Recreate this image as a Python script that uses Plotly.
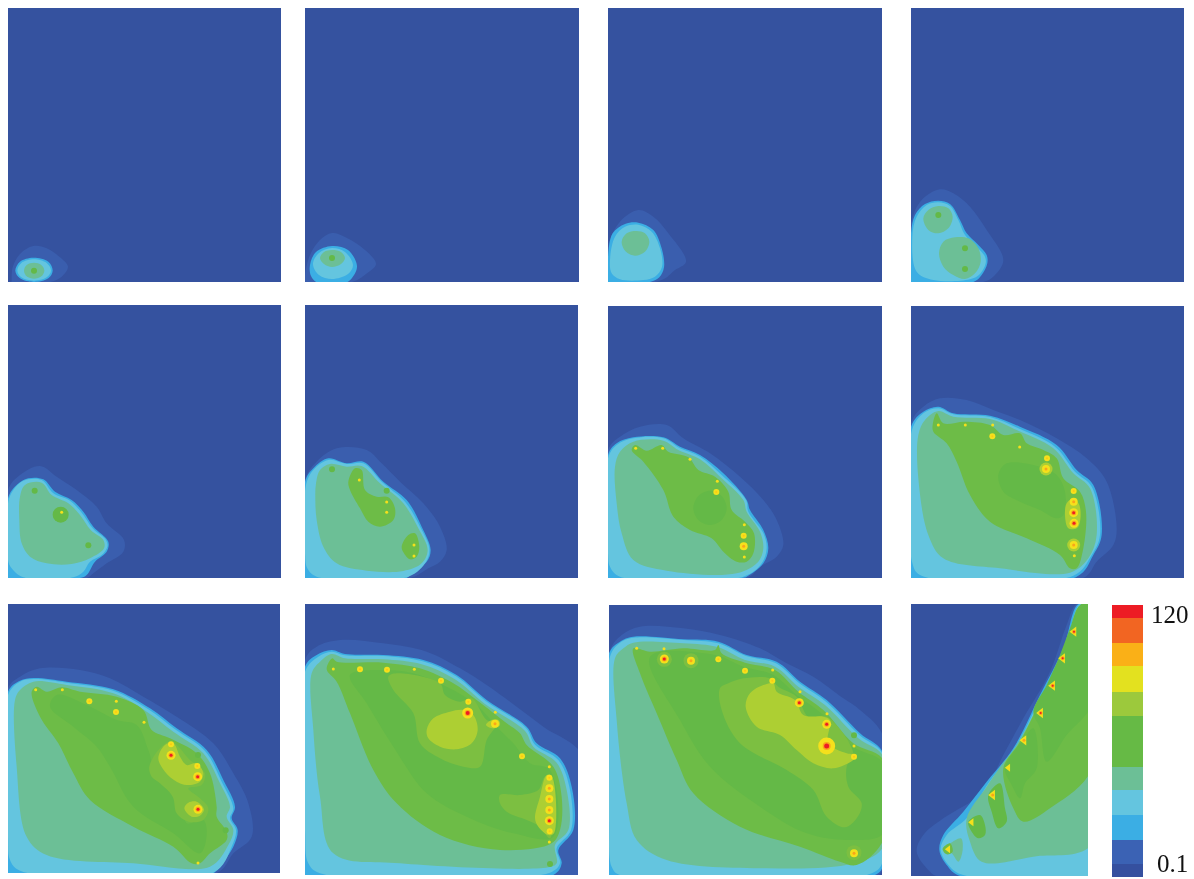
import plotly.graph_objects as go

W, H = 1194, 879

# ---- colour levels (from the colour key) ----
BACK = "#35529F"
HALO = "#3A5EAE"
SKY = "#3BAEE4"
CYAN = "#64C5DF"
TEAL = "#6CBF96"
GRN = "#6DBC47"
DGRN = "#64B947"
OLIVE = "#7CBF41"
YGRN = "#ADCF33"
YEL = "#F5E01C"
ORG = "#F9A61A"
ORED = "#F26522"
RED = "#ED1C24"

# ---- colour key ----
KEY_COLORS = ["#35509F", "#3B62B4", SKY, CYAN, TEAL, "#66BA45", "#9CC93C", "#E3E11F", "#FAB017", ORED, RED]
KEY_BANDS = [40, 72, 75, 73, 70, 153, 72, 77, 70, 73, 40]
KEY_TOP = "120"
KEY_BOTTOM = "0.1"

# ---- panel 1 ----
P1_HALO = [(35,300),(38,262),(60,222),(100,198),(140,205),(180,232),(204,260),(190,285),(160,304),(35,306)]
P1_SKY = [(46,272),(60,245),(100,233),(145,245),(158,272),(145,295),(102,306),(60,295)]
P1_CYAN = [(52,272),(64,249),(102,238),(140,249),(153,272),(140,292),(102,302),(64,292)]
P1_TEAL = [(72,272),(80,255),(102,248),(124,255),(133,272),(124,289),(102,296),(80,289)]
P1_SPOTS = [(102,272,"g")]

# ---- panel 2 ----
P2_HALO = [(305,275),(310,255),(320,240),(332,233),(345,237),(365,250),(376,264),(366,274),(352,282),(305,282)]
P2_SKY = [(310,265),(316,252),(332,246),(348,250),(357,266),(352,278),(345,283),(318,283),(311,276)]
P2_CYAN = [(313,264),(319,253),(332,248),(345,252),(353,265),(348,274),(332,279),(319,275)]
P2_TEAL = [(320,258),(324,252),(332,250),(341,252),(345,258),(341,264),(332,267),(324,264)]
P2_SPOTS = [(332,258,"g")]

# ---- panel 3 ----
P3_HALO = [(24,200),(60,125),(115,90),(160,110),(205,160),(258,245),(225,270),(185,300),(24,306)]
P3_SKY = [(24,230),(38,160),(75,132),(115,128),(160,150),(185,205),(192,262),(178,292),(150,306),(24,306)]
P3_CYAN = [(30,240),(45,170),(75,140),(115,134),(155,155),(180,205),(186,260),(165,290),(130,300),(60,298),(35,280)]
P3_TEAL = [(65,185),(80,160),(110,153),(135,160),(148,185),(135,215),(105,227),(78,215)]

# ---- panel 4 ----
P4_HALO = [(933,130),(965,60),(1020,28),(1060,40),(1110,80),(1160,150),(1210,240),(1185,285),(1150,306),(933,306)]
P4_SKY = [(933,160),(945,105),(975,72),(1015,62),(1050,72),(1080,120),(1100,160),(1135,195),(1160,225),(1162,250),(1145,285),(1120,306),(933,306)]
P4_CYAN = [(937,170),(950,110),(980,75),(1015,67),(1050,78),(1075,120),(1095,165),(1130,200),(1155,230),(1157,250),(1140,282),(1110,298),(1000,300),(950,275)]
P4_TEAL_A = [(970,115),(985,90),(1015,78),(1045,85),(1058,110),(1045,145),(1015,160),(985,150)]
P4_TEAL_B = [(1017,220),(1030,185),(1065,172),(1105,175),(1135,205),(1142,245),(1125,280),(1095,297),(1060,285),(1030,260)]
P4_SPOTS = [(1015,105,"g"),(1095,205,"g"),(1095,267,"g")]

# ---- panel 5 ----
P5_HALO = [(24,150),(60,105),(120,78),(170,110),(230,150),(290,200),(320,250),(372,300),(370,335),(320,370),(280,400),(260,414),(24,414)]
P5_SKY = [(24,175),(50,135),(85,115),(130,118),(165,155),(215,180),(250,215),(280,260),(325,305),(320,335),(285,365),(260,405),(240,414),(24,414)]
P5_CYAN = [(24,190),(40,150),(70,122),(125,120),(160,160),(210,182),(245,218),(278,265),(318,300),(322,320),(305,345),(270,365),(250,395),(220,412),(70,412),(35,385),(24,360)]
P5_TEAL = [(60,170),(75,135),(125,128),(155,165),(205,190),(240,225),(272,270),(310,300),(312,325),(270,355),(215,372),(140,370),(90,350),(65,310),(58,240)]
P5_SPOTS = [(182,224,"G"),(104,152,"g"),(265,316,"g"),(185,217,"t")]

# ---- panel 6 ----
P6_HALO = [(15,120),(50,65),(110,25),(200,30),(245,70),(300,125),(370,190),(420,260),(440,330),(420,365),(385,385),(330,414),(15,414)]
P6_SKY = [(15,125),(40,85),(85,55),(140,70),(190,65),(250,125),(320,180),(365,260),(392,330),(380,365),(330,405),(320,414),(15,414)]
P6_CYAN = [(18,135),(40,90),(85,60),(140,72),(190,70),(245,125),(315,185),(360,260),(388,325),(378,365),(325,410),(50,410),(22,385),(15,340)]
P6_TEAL = [(48,130),(60,90),(90,72),(140,80),(185,78),(240,130),(310,190),(355,265),(383,330),(365,370),(310,393),(200,392),(110,370),(70,320),(50,240),(46,180)]
P6_GREEN_A = [(145,125),(165,85),(185,90),(195,150),(230,170),(265,172),(285,205),(280,240),(240,260),(205,245),(180,205),(150,150)]
P6_GREEN_B = [(305,320),(325,285),(345,280),(358,320),(350,350),(330,358),(312,340)]
P6_SPOTS = [(96,88,"g"),(260,152,"g"),(178,120,"t"),(260,186,"t"),(260,217,"t"),(342,315,"t"),(342,348,"t")]

# ---- panel 7 ----
P7_HALO = [(24,90),(60,50),(120,20),(200,15),(250,55),(330,100),(420,170),(490,240),(530,300),(550,375),(530,410),(480,440),(440,474),(24,474)]
P7_SKY = [(24,105),(50,70),(100,52),(190,52),(240,80),(300,105),(370,160),(440,240),(450,270),(490,330),(505,385),(490,430),(440,470),(420,474),(24,474)]
P7_CYAN = [(24,115),(50,75),(100,55),(190,55),(240,85),(300,110),(365,165),(438,240),(445,275),(490,340),(500,385),(485,430),(430,470),(60,470),(30,440),(24,400)]
P7_TEAL = [(45,140),(60,95),(100,65),(190,62),(235,90),(300,118),(360,170),(430,240),(440,275),(480,335),(490,385),(475,425),(410,460),(200,452),(100,420),(65,340),(50,250)]
P7_GREEN = [(95,90),(105,75),(140,92),(185,75),(205,95),(265,112),(295,150),(345,170),(385,215),(395,270),(435,305),(462,340),(460,400),(440,425),(410,425),(370,395),(335,355),(270,330),(220,290),(190,210),(130,125)]
P7_DARK = [(280,265),(295,228),(330,212),(365,228),(380,265),(365,300),(330,315),(295,300)]
P7_SPOTS = [(107,85,"t"),(188,85,"t"),(270,118,"t"),(352,184,"t"),(349,216,"s"),(433,314,"t"),(431,347,"s"),(431,379,"o"),(433,411,"t")]

# ---- panel 8 ----
P8_HALO = [(33,85),(70,35),(120,10),(200,15),(280,45),(360,75),(470,130),(560,190),(620,260),(650,400),(640,450),(590,500),(550,549),(33,549)]
P8_SKY = [(33,95),(70,50),(115,35),(160,55),(270,62),(360,95),(470,150),(530,225),(580,270),(605,420),(580,480),(530,545),(33,549)]
P8_CYAN = [(36,105),(70,55),(115,40),(160,58),(270,66),(355,100),(465,155),(525,230),(575,275),(600,420),(575,480),(520,542),(60,540),(36,500),(33,400)]
P8_TEAL = [(55,120),(75,75),(115,48),(160,65),(270,72),(350,105),(460,160),(520,235),(570,280),(590,420),(565,490),(510,533),(300,520),(130,490),(85,420),(55,250)]
P8_GREEN = [(98,90),(110,55),(130,85),(195,80),(270,90),(310,120),(360,115),(380,145),(430,165),(470,190),(490,250),(540,290),(558,350),(550,460),(530,520),(510,520),(480,480),(380,430),(270,380),(210,300),(170,200),(140,145),(100,110)]
P8_DARK = [(295,240),(320,205),(420,215),(470,240),(495,290),(490,360),(470,370),(420,345),(360,320),(310,290)]
P8_YGRN = [(495,360),(500,325),(520,310),(538,330),(540,380),(530,400),(505,400)]
P8_SPOTS = [(115,90,"t"),(196,90,"t"),(278,90,"t"),(277,124,"s"),(359,156,"t"),(441,190,"s"),(438,222,"O"),(521,288,"s"),(521,320,"o"),(521,353,"r"),(522,385,"r"),(521,450,"O"),(523,482,"t")]

# ---- panel 9 ----
P9_HALO = [(24,115),(60,80),(120,55),(240,60),(330,85),(430,140),(530,200),(640,280),(700,370),(745,460),(755,560),(700,610),(650,669),(24,669)]
P9_SKY = [(24,125),(60,92),(100,84),(200,95),(340,118),(450,175),(530,235),(620,300),(670,390),(705,470),(695,505),(713,540),(700,590),(650,660),(640,669),(24,669)]
P9_CYAN = [(24,135),(60,95),(100,87),(200,98),(340,122),(445,178),(525,238),(615,303),(665,395),(700,475),(690,505),(708,540),(695,590),(640,668),(60,662),(30,630),(24,560)]
P9_TEAL = [(45,150),(60,120),(100,95),(200,105),(340,130),(440,185),(520,245),(610,310),(660,400),(690,470),(680,500),(700,540),(685,585),(630,650),(400,640),(140,615),(80,560),(50,350)]
P9_GREEN = [(95,125),(110,110),(140,125),(185,112),(240,125),(350,140),(430,180),(455,240),(510,265),(590,310),(630,370),(650,470),(650,500),(680,545),(680,570),(630,610),(600,640),(575,640),(520,590),(400,530),(270,450),(220,370),(175,280),(120,200)]
P9_DARK = [(150,170),(170,135),(260,165),(350,210),(410,225),(445,300),(470,380),(520,430),(550,460),(560,520),(610,510),(620,555),(600,610),(520,550),(400,470),(330,350),(290,290),(220,230)]
P9_OLIVE = [(448,350),(480,295),(515,275),(570,330),(615,370),(605,405),(565,415),(600,445),(625,475),(610,510),(565,515),(530,490),(518,440),(480,400),(455,380)]
P9_YGRN_A = [(475,325),(495,285),(520,280),(540,320),(560,345),(590,340),(610,370),(600,395),(560,405),(530,395),(495,365)]
P9_YGRN_B = [(553,475),(565,458),(590,455),(612,478),(600,497),(575,500)]
P9_SPOTS = [(107,119,"t"),(187,119,"t"),(268,154,"s"),(349,154,"t"),(348,186,"s"),(432,217,"t"),(513,283,"s"),(513,316,"r"),(594,315,"g"),(592,348,"s"),(593,380,"r"),(594,478,"r"),(677,541,"g"),(594,639,"t")]

# ---- panel 10 ----
P10_HALO = [(15,90),(50,50),(120,30),(250,40),(380,65),(480,115),(560,165),(650,230),(730,290),(850,380),(850,750),(15,750)]
P10_SKY = [(15,110),(50,75),(95,60),(135,72),(250,75),(370,90),(470,135),(560,210),(680,290),(710,340),(780,385),(815,470),(820,600),(775,660),(785,700),(760,735),(15,735)]
P10_CYAN = [(15,125),(55,80),(95,65),(135,76),(250,78),(368,94),(468,139),(558,214),(678,294),(705,344),(775,390),(808,470),(813,600),(770,655),(780,700),(750,728),(60,730),(25,700),(15,600)]
P10_TEAL = [(35,130),(60,95),(95,72),(135,85),(250,88),(365,103),(465,148),(555,222),(675,303),(700,350),(770,398),(800,480),(805,600),(765,645),(770,700),(745,712),(300,700),(100,670),(60,500),(40,300)]
P10_GREEN = [(80,118),(97,85),(110,95),(250,98),(360,115),(460,160),(530,210),(620,280),(660,310),(680,345),(760,410),(785,500),(780,600),(755,640),(600,660),(420,615),(290,520),(220,420),(150,250),(110,155)]
P10_DARK = [(150,135),(250,120),(340,130),(440,170),(530,225),(590,290),(640,340),(690,400),(750,420),(760,620),(640,610),(500,560),(380,490),(280,350),(200,220)]
P10_OLIVE_A = [(265,140),(290,130),(420,160),(435,195),(480,215),(515,205),(560,270),(590,280),(560,330),(540,410),(490,410),(420,385),(360,340),(340,250),(280,180)]
P10_OLIVE_B = [(600,495),(660,495),(715,480),(735,440),(755,445),(750,625),(720,590),(680,570),(620,545),(600,520)]
P10_YGRN_A = [(380,300),(400,265),(450,245),(490,240),(520,255),(533,300),(515,340),(470,358),(420,350),(385,325)]
P10_YGRN_B = [(558,285),(575,270),(595,270),(600,285),(580,295)]
P10_YGRN_C = [(705,565),(720,500),(740,435),(755,437),(762,610),(745,615),(715,590)]
P10_SPOTS = [(100,117,"t"),(180,118,"s"),(261,119,"s"),(343,118,"t"),(423,152,"s"),(505,215,"s"),(503,249,"R"),(586,247,"t"),(585,281,"o"),(666,379,"s"),(748,410,"t"),(748,443,"s"),(748,475,"o"),(748,507,"o"),(748,540,"o"),(748,572,"r"),(749,604,"s"),(748,636,"t"),(750,702,"g")]

# ---- panel 11 ----
P11_HALO = [(27,100),(65,45),(120,20),(250,25),(360,45),(480,85),(560,130),(640,170),(730,235),(780,270),(850,350),(850,735),(830,770),(27,780)]
P11_SKY = [(27,100),(60,65),(100,50),(250,58),(355,65),(440,105),(530,125),(600,185),(680,240),(780,340),(850,400),(850,735),(825,765),(27,765)]
P11_CYAN = [(30,110),(60,68),(100,53),(250,60),(355,70),(438,108),(528,130),(598,190),(678,245),(778,345),(850,405),(850,720),(815,760),(60,765),(35,740),(27,600)]
P11_TEAL = [(45,115),(70,85),(100,68),(250,70),(355,82),(435,120),(525,140),(595,200),(675,255),(775,355),(850,410),(850,680),(760,730),(500,745),(200,720),(110,660),(80,550),(50,300)]
P11_GREEN = [(100,85),(150,95),(250,85),(345,90),(355,75),(365,100),(435,128),(525,150),(595,215),(670,270),(760,370),(850,420),(850,660),(770,735),(720,725),(600,680),(420,620),(280,520),(230,420),(170,280),(120,160)]
P11_DARK = [(150,110),(345,105),(430,140),(520,165),(590,225),(670,285),(760,380),(850,430),(850,640),(750,660),(620,640),(480,560),(330,440),(240,300)]
P11_OLIVE = [(360,205),(385,190),(430,175),(510,175),(535,200),(590,230),(625,290),(680,290),(760,400),(740,440),(745,500),(785,550),(770,595),(735,622),(680,590),(640,510),(560,450),(420,370),(365,270)]
P11_YGRN = [(437,260),(450,220),(490,195),(520,190),(530,215),(585,240),(610,285),(670,290),(690,300),(685,370),(740,400),(770,405),(760,420),(700,445),(640,430),(590,390),(540,345),(470,320)]
P11_SPOTS = [(193,118,"H"),(273,122,"H"),(762,698,"H"),(110,85,"t"),(192,86,"t"),(193,117,"r"),(273,122,"o"),(355,118,"s"),(435,152,"s"),(518,150,"t"),(517,182,"s"),(600,215,"t"),(598,248,"r"),(681,281,"t"),(680,313,"r"),(680,378,"X"),(762,346,"g"),(762,378,"t"),(762,410,"s"),(762,700,"o")]

# ---- panel 12 ----
P12_HALO = [(530,27),(500,90),(450,230),(370,370),(310,480),(250,590),(130,670),(70,720),(50,770),(90,830),(110,843),(580,843),(580,27)]
P12_SKY = [(535,27),(490,160),(420,300),(340,460),(260,560),(190,650),(130,720),(118,765),(140,810),(180,843),(580,843),(580,27)]
P12_CYAN = [(540,27),(495,160),(425,300),(345,460),(265,565),(200,670),(140,720),(122,765),(150,815),(190,840),(580,840),(580,27)]
P12_TEAL = [(550,27),(500,155),(430,300),(350,450),(305,510),(260,575),(200,670),(210,740),(245,800),(400,785),(580,745),(580,27)]
P12_GREEN = [(545,27),(500,160),(430,300),(360,440),(310,520),(340,640),(370,680),(450,640),(580,515),(580,27)]
P12_DARK = [(540,30),(510,100),(480,180),(440,270),(400,350),(420,400),(440,500),(500,420),(580,320),(580,27)]
P12_FIN_A = [(315,520),(365,440),(400,400),(410,520),(375,565),(360,610),(335,570)]
P12_FIN_B = [(265,600),(300,565),(315,640),(320,680),(295,700),(275,650)]
P12_FIN_C = [(205,680),(240,660),(255,690),(255,720),(235,730),(215,710)]
P12_FIN_D = [(128,762),(150,745),(183,730),(188,765),(175,800),(155,775)]
P12_FIN_E = [(128,762),(150,745),(158,770),(140,778)]
P12_SPOTS = [(522,110,"v"),(488,190,"v"),(458,272,"v"),(422,354,"v"),(372,436,"w"),(325,518,"y"),(278,600,"w"),(215,682,"y"),(145,763,"y")]

# ---- panel geometry on the page: left, right, top, bottom (px), axis x range, axis y range ----
PANELS = [
    dict(box=(8, 281, 8, 282), xr=(24, 843), yr=(306, -516), spots=P1_SPOTS,
         layers=[(HALO, P1_HALO), (SKY, P1_SKY), (CYAN, P1_CYAN), (TEAL, P1_TEAL)]),
    dict(box=(305, 579, 8, 282), xr=(305, 579), yr=(282, 8), spots=P2_SPOTS,
         layers=[(HALO, P2_HALO), (SKY, P2_SKY), (CYAN, P2_CYAN), (TEAL, P2_TEAL)]),
    dict(box=(608, 882, 8, 282), xr=(24, 846), yr=(306, -516), spots=[],
         layers=[(HALO, P3_HALO), (SKY, P3_SKY), (CYAN, P3_CYAN), (TEAL, P3_TEAL)]),
    dict(box=(911, 1184, 8, 282), xr=(933, 1752), yr=(306, -516), spots=P4_SPOTS,
         layers=[(HALO, P4_HALO), (SKY, P4_SKY), (CYAN, P4_CYAN), (TEAL, P4_TEAL_A), (TEAL, P4_TEAL_B)]),
    dict(box=(8, 281, 305, 578), xr=(24, 843), yr=(414, -405), spots=P5_SPOTS,
         layers=[(HALO, P5_HALO), (SKY, P5_SKY), (CYAN, P5_CYAN), (TEAL, P5_TEAL)]),
    dict(box=(305, 578, 305, 578), xr=(15, 834), yr=(414, -405), spots=P6_SPOTS,
         layers=[(HALO, P6_HALO), (SKY, P6_SKY), (CYAN, P6_CYAN), (TEAL, P6_TEAL), (GRN, P6_GREEN_A), (GRN, P6_GREEN_B)]),
    dict(box=(608, 882, 306, 578), xr=(24, 846), yr=(474, -342), spots=P7_SPOTS,
         layers=[(HALO, P7_HALO), (SKY, P7_SKY), (CYAN, P7_CYAN), (TEAL, P7_TEAL), (GRN, P7_GREEN), (DGRN, P7_DARK)]),
    dict(box=(911, 1184, 306, 578), xr=(33, 852), yr=(549, -267), spots=P8_SPOTS,
         layers=[(HALO, P8_HALO), (SKY, P8_SKY), (CYAN, P8_CYAN), (TEAL, P8_TEAL), (GRN, P8_GREEN), (DGRN, P8_DARK), (YGRN, P8_YGRN)]),
    dict(box=(8, 280, 604, 873), xr=(24, 840), yr=(669, -138), spots=P9_SPOTS,
         layers=[(HALO, P9_HALO), (SKY, P9_SKY), (CYAN, P9_CYAN), (TEAL, P9_TEAL), (GRN, P9_GREEN), (DGRN, P9_DARK), (OLIVE, P9_OLIVE), (YGRN, P9_YGRN_A), (YGRN, P9_YGRN_B)]),
    dict(box=(305, 578, 604, 875), xr=(15, 834), yr=(735, -78), spots=P10_SPOTS,
         layers=[(HALO, P10_HALO), (SKY, P10_SKY), (CYAN, P10_CYAN), (TEAL, P10_TEAL), (GRN, P10_GREEN), (DGRN, P10_DARK), (OLIVE, P10_OLIVE_A), (OLIVE, P10_OLIVE_B), (YGRN, P10_YGRN_A), (YGRN, P10_YGRN_B), (YGRN, P10_YGRN_C)]),
    dict(box=(609, 882, 605, 875), xr=(27, 846), yr=(765, -45), spots=P11_SPOTS,
         layers=[(HALO, P11_HALO), (SKY, P11_SKY), (CYAN, P11_CYAN), (TEAL, P11_TEAL), (GRN, P11_GREEN), (DGRN, P11_DARK), (OLIVE, P11_OLIVE), (YGRN, P11_YGRN)]),
    dict(box=(911, 1088, 604, 876), xr=(33, 564), yr=(843, 27), spots=P12_SPOTS,
         layers=[(HALO, P12_HALO), (SKY, P12_SKY), (CYAN, P12_CYAN), (TEAL, P12_TEAL), (GRN, P12_GREEN), (DGRN, P12_DARK), (DGRN, P12_FIN_A), (DGRN, P12_FIN_B), (DGRN, P12_FIN_C), (TEAL, P12_FIN_D), (GRN, P12_FIN_E)]),
]
KEY_BOX = (1112, 1143, 605, 877)

# marker stacks for local peaks: (size px, symbol, colour), outer first
SPOT_STYLES = {
    "g": [(6, "circle", DGRN)],
    "G": [(16, "circle", DGRN)],
    "H": [(15, "circle", OLIVE)],
    "t": [(3, "circle", YEL)],
    "s": [(6, "circle", YEL), (2, "circle", "#FBC814")],
    "o": [(8, "circle", YEL), (3, "circle", ORG)],
    "O": [(13, "circle", YGRN), (8, "circle", YEL), (3, "circle", ORG)],
    "r": [(9, "circle", YEL), (5, "circle", ORG), (3, "circle", RED)],
    "R": [(11, "circle", YEL), (6, "circle", ORG), (4, "circle", RED)],
    "X": [(17, "circle", YEL), (8, "circle", ORG), (5, "circle", RED)],
    "y": [(7, "triangle-left", YEL)],
    "w": [(9, "triangle-left", YEL), (3, "circle", ORG)],
    "v": [(9, "triangle-left", YEL), (4, "circle", ORG), (2, "circle", RED)],
}

fig = go.Figure()
layout = {}


def axis_names(i):
    return ("x" if i == 0 else f"x{i+1}", "y" if i == 0 else f"y{i+1}",
            "xaxis" if i == 0 else f"xaxis{i+1}", "yaxis" if i == 0 else f"yaxis{i+1}")


def set_axes(i, box, xr, yr):
    xa, ya, xk, yk = axis_names(i)
    l, r, t, b = box
    layout[xk] = dict(domain=[l / W, r / W], range=list(xr), visible=False, fixedrange=True, anchor=ya)
    layout[yk] = dict(domain=[1 - b / H, 1 - t / H], range=list(yr), visible=False, fixedrange=True, anchor=xa)
    return xa, ya


for i, p in enumerate(PANELS):
    xa, ya = set_axes(i, p["box"], p["xr"], p["yr"])
    for color, poly in p["layers"]:
        closed = poly + [poly[0]]
        fig.add_trace(go.Scatter(
            x=[q[0] for q in closed], y=[q[1] for q in closed], xaxis=xa, yaxis=ya,
            mode="lines", fill="toself", fillcolor=color,
            line=dict(color=color, width=0, shape="spline", smoothing=1.0),
            hoverinfo="skip", showlegend=False))
    for sx, sy, kind in p["spots"]:
        for size, sym, col in SPOT_STYLES[kind]:
            fig.add_trace(go.Scatter(
                x=[sx], y=[sy], xaxis=xa, yaxis=ya, mode="markers",
                marker=dict(size=size, color=col, symbol=sym, line=dict(width=0)),
                hoverinfo="skip", showlegend=False))

# colour key: stacked bands on its own axes
ki = len(PANELS)
kx, ky = set_axes(ki, KEY_BOX, (-0.5, 0.5), (0, sum(KEY_BANDS)))
for band, col in zip(KEY_BANDS, KEY_COLORS):
    fig.add_trace(go.Bar(x=[0], y=[band], xaxis=kx, yaxis=ky, marker=dict(color=col, line=dict(width=0)),
                         width=1, hoverinfo="skip", showlegend=False))

layout.update(
    width=W, height=H, autosize=False,
    margin=dict(l=0, r=0, t=0, b=0, pad=0),
    paper_bgcolor="white", plot_bgcolor=BACK,
    barmode="stack", bargap=0,
    annotations=[
        dict(text=KEY_TOP, x=1149 / W, y=1 - 614 / H, xref="paper", yref="paper", xanchor="left", yanchor="middle",
             showarrow=False, font=dict(family="Liberation Serif", size=25, color="#111111")),
        dict(text=KEY_BOTTOM, x=1155 / W, y=1 - 863 / H, xref="paper", yref="paper", xanchor="left", yanchor="middle",
             showarrow=False, font=dict(family="Liberation Serif", size=25, color="#111111")),
    ],
)
fig.update_layout(**layout)
fig.write_html("out.html", config=dict(displayModeBar=False),
               post_script="document.body.style.margin='0';document.documentElement.style.overflow='hidden';"
                           "document.querySelector('.js-plotly-plot').style.filter='blur(0.6px)';")
